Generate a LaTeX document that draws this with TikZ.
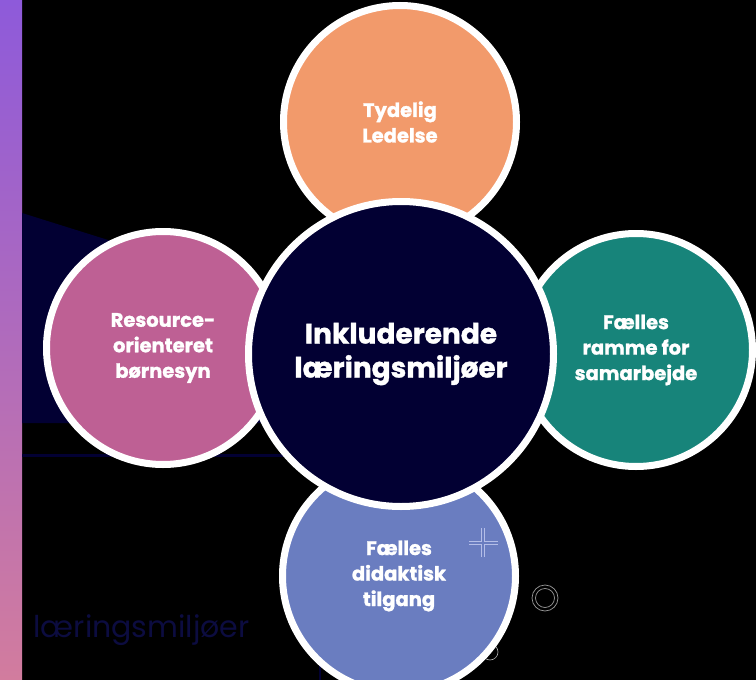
\documentclass[tikz,border=0pt]{standalone}
\usepackage{fontspec}
\setmainfont{Poppins}[BoldFeatures={FakeBold=1.2}]
\usepackage{tikz}
\definecolor{navy}{HTML}{020033}
\definecolor{textnavy}{HTML}{0C0C40}
\definecolor{ledorange}{HTML}{F29A6B}
\definecolor{synpink}{HTML}{BE6094}
\definecolor{samteal}{HTML}{17847A}
\definecolor{didblue}{HTML}{6A7DC0}
\definecolor{pluslight}{HTML}{B4BEE8}
\definecolor{barpurple}{HTML}{8E5ADA}
\definecolor{barpink}{HTML}{D27C9E}

\begin{document}
\begin{tikzpicture}[x=1pt,y=-1pt,
  sat/.style={circle,draw=white,line width=7pt,minimum size=233pt,inner sep=0pt,
    text=white,align=center,font=\fontsize{19.5}{25.5}\selectfont\bfseries},
  hub/.style={sat,minimum size=305pt,fill=navy,font=\fontsize{28}{34}\selectfont\bfseries}]
\useasboundingbox (0,0) rectangle (756,680);
\fill[black] (0,0) rectangle (756,680);
\shade[top color=barpurple,bottom color=barpink] (0,0) rectangle (22,680);
\fill[navy] (22,213) -- (140,250) -- (230,290) -- (300,330) -- (300,423) -- (22,423) -- cycle;
\draw[navy,line width=3pt] (22,455) -- (300,455);
\draw[navy,line width=2pt] (320,657) -- (320,680);
\draw[gray!60,line width=.6pt] (490,652) circle (8);
\foreach \n/\x/\y/\c/\t in {ledelse/400/122/ledorange/{Tydelig\\Ledelse},
  boernesyn/163/348/synpink/{Resource-\\orienteret\\børnesyn},
  ramme/636/350/samteal/{Fælles\\ramme for\\samarbejde},
  didaktik/399/576/didblue/{Fælles\\didaktisk\\tilgang}}{
  \node[sat,fill=\c] (\n) at (\x,\y) {\t};}
\node[hub] (miljo) at (401,354) {Inkluderende\\læringsmiljøer};
\node[anchor=base west,text=textnavy,font=\fontsize{30}{30}\selectfont] (underord) at (30,637) {læringsmiljøer};
\draw[pluslight,line width=.7pt,double=didblue,double distance=1.8pt] (469,543) -- (498,543) (483,528) -- (483,557);
\draw[gray!80,line width=.7pt] (545,598) circle (13) (545,598) circle (9.5);
\end{tikzpicture}
\end{document}
